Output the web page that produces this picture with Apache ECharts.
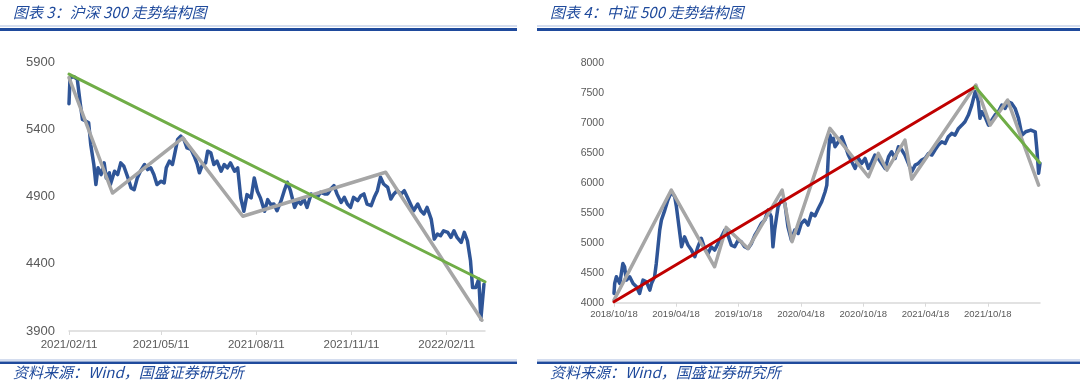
<!DOCTYPE html>
<html>
<head>
<meta charset="utf-8">
<script src="https://cdn.jsdelivr.net/npm/echarts@6/dist/echarts.min.js"></script>
<style>
  html, body { margin: 0; padding: 0; background: #fff; }
  #chart { width: 1080px; height: 384px; }
</style>
</head>
<body>
<div id="chart"></div>
<script>
// ---------- Chart 3: CSI 300 (days counted from the first tick date) ----------
const hs300Title = '图表 3：沪深 300 走势结构图';
const hs300XTicks = ['2021/02/11', '2021/05/11', '2021/08/11', '2021/11/11', '2022/02/11'];
const hs300YTicks = [3900, 4400, 4900, 5400, 5900];
const hs300Days = [0,1,5,8,11,13,16,19,21,24,26,28,31,34,36,39,40,44,47,50,53,57,60,63,66,69,73,76,79,82,85,89,92,94,97,100,102,105,108,111,114,118,121,124,126,129,132,134,137,140,143,147,150,153,156,160,163,166,169,172,176,179,182,185,189,192,195,198,201,205,208,211,214,218,221,224,227,230,234,237,240,243,247,250,253,256,259,263,266,269,272,275,279,282,285,288,292,295,298,301,304,308,311,314,317,321,324,327,330,333,337,340,343,346,350,353,356,359,362,366,369,372,375,379,382,385,388,390,393,396,398,401];
const hs300Close = [5590,5784,5790,5771,5585,5473,5461,5448,5287,5138,4989,5113,5063,5150,5038,5076,4989,5088,5063,5150,5125,5038,4964,4951,5038,5088,5138,5100,5113,5063,4989,5014,5001,5113,5163,5138,5212,5324,5349,5324,5262,5250,5200,5138,5076,5138,5150,5237,5225,5138,5163,5088,5138,5113,5150,5088,5113,4889,4790,4914,4889,5038,4939,4889,4790,4877,4840,4844,4794,4869,4943,5006,4943,4819,4869,4844,4881,4819,4919,4906,4894,4931,4919,4919,4956,4981,4919,4856,4894,4844,4819,4894,4869,4906,4919,4844,4832,4894,4943,5043,4993,4968,4881,4919,4943,4919,4943,4894,4844,4794,4844,4794,4770,4819,4732,4583,4620,4608,4645,4633,4596,4645,4596,4558,4633,4571,4422,4223,4223,4286,3988,4248];
const hs300ZigDays = [0, 42, 110, 168, 306, 399];
const hs300ZigValues = [5783, 4926, 5336, 4753, 5080, 3980];
const hs300TrendDays = [0, 402];
const hs300TrendValues = [5810, 4266];
const hs300MaxDay = 402;

// ---------- Chart 4: CSI 500 ----------
const zz500Title = '图表 4：中证 500 走势结构图';
const zz500XTicks = ['2018/10/18', '2019/04/18', '2019/10/18', '2020/04/18', '2020/10/18', '2021/04/18', '2021/10/18'];
const zz500YTicks = [4000, 4500, 5000, 5500, 6000, 6500, 7000, 7500, 8000];
const zz500Days = [0,2,7,17,26,31,36,46,56,66,75,85,95,105,110,119,124,129,134,139,149,158,168,178,183,188,193,198,207,217,227,237,246,256,266,276,285,295,305,315,325,334,344,354,364,373,383,393,403,413,422,432,442,452,461,466,471,481,491,501,510,520,530,540,549,559,569,579,589,599,609,619,624,629,633,638,643,648,658,668,677,687,697,707,717,726,736,746,756,765,775,785,795,805,814,824,834,844,853,863,873,883,892,902,912,922,932,941,951,961,971,980,990,1000,1010,1020,1029,1039,1049,1059,1064,1068,1073,1078,1088,1098,1108,1117,1127,1137,1147,1156,1166,1176,1186,1196,1207,1222,1235,1240,1245,1249];
const zz500Close = [4154,4321,4433,4321,4656,4600,4377,4433,4321,4266,4154,4377,4349,4210,4321,4433,4656,4934,5213,5380,5547,5715,5854,5770,5603,5380,5157,4934,5101,4962,4879,4767,4934,5074,4906,4823,4934,4879,4990,5101,5213,5129,4962,4934,5046,5018,4934,4906,4990,5129,5213,5324,5380,5547,5436,4934,5213,5603,5715,5659,5269,5046,5213,5157,5324,5380,5297,5492,5450,5575,5686,5853,5965,6522,6801,6689,6745,6606,6689,6773,6634,6467,6355,6244,6411,6327,6411,6244,6355,6467,6411,6327,6244,6439,6522,6411,6606,6550,6467,6327,6188,6299,6327,6383,6411,6494,6467,6550,6634,6689,6662,6773,6829,6801,6912,6968,7024,7135,7302,7525,7470,7358,7080,7191,7107,6968,7052,7135,7191,7302,7247,7358,7330,7247,7080,6800,6856,6884,6856,6550,6161,6328];
const zz500ZigDays = [0, 168, 295, 329, 393, 493, 522, 633, 746, 775, 800, 853, 873, 1061, 1103, 1154, 1245];
const zz500ZigValues = [4043, 5882, 4600, 5258, 4906, 5882, 5018, 6912, 6104, 6494, 6216, 6717, 6065, 7637, 6968, 7386, 5965];
const zz500UpDays = [0, 1059];
const zz500UpValues = [4015, 7609];
const zz500DownDays = [1059, 1248];
const zz500DownValues = [7609, 6338];
const zz500MaxDay = 1249;

const sourceText = '资料来源：Wind，国盛证券研究所';

// ---------- helpers ----------
function parseDay(label) {
  const p = label.split('/').map(Number);
  return Date.UTC(p[0], p[1] - 1, p[2]);
}
function tickOffsets(labels) {
  const base = parseDay(labels[0]);
  return labels.map(l => Math.round((parseDay(l) - base) / 86400000));
}
function labelFormatter(labels) {
  const offs = tickOffsets(labels);
  return v => {
    const i = offs.indexOf(Math.round(v));
    return i >= 0 ? labels[i] : '';
  };
}
function pairs(xs, ys) { return xs.map((x, i) => [x, ys[i]]); }

const AXIS_GREY = '#D9D9D9';
const TEXT_GREY = '#595959';
const NAVY = '#1F4A9C';
const FONT = '"Liberation Sans", Arial, sans-serif';
const CJK = '"Noto Sans CJK SC", sans-serif';

function xAxisCfg(idx, labels, max, fontSize, margin) {
  const offs = tickOffsets(labels);
  return {
    type: 'value', gridIndex: idx, min: 0, max: max,
    axisLine: { show: true, lineStyle: { color: AXIS_GREY, width: 1.5 } },
    axisTick: { show: true, customValues: offs, length: 4, lineStyle: { color: AXIS_GREY, width: 1 } },
    axisLabel: { customValues: offs, formatter: labelFormatter(labels), color: TEXT_GREY,
                 fontSize: fontSize, fontFamily: FONT, margin: margin },
    splitLine: { show: false }
  };
}
function yAxisCfg(idx, ticks, fontSize, margin) {
  return {
    type: 'value', gridIndex: idx, min: ticks[0], max: ticks[ticks.length - 1],
    axisLine: { show: false }, axisTick: { show: false }, splitLine: { show: false },
    axisLabel: { customValues: ticks, formatter: v => String(v), color: TEXT_GREY,
                 fontSize: fontSize, fontFamily: FONT, margin: margin }
  };
}
function lineSeries(idx, data, color, width, z) {
  return {
    type: 'line', xAxisIndex: idx, yAxisIndex: idx, data: data,
    showSymbol: false, symbol: 'none', z: z, silent: true,
    lineStyle: { color: color, width: width, join: 'round', cap: 'round' }
  };
}
function headerGraphics(x0, x1, titleX, title) {
  return [
    { type: 'rect', shape: { x: x0, y: 25.5, width: x1 - x0, height: 1 }, style: { fill: '#A9BCE0' } },
    { type: 'rect', shape: { x: x0, y: 28, width: x1 - x0, height: 3 }, style: { fill: NAVY } },
    { type: 'rect', shape: { x: x0, y: 359.5, width: x1 - x0, height: 1 }, style: { fill: '#A9BCE0' } },
    { type: 'rect', shape: { x: x0, y: 361.5, width: x1 - x0, height: 2.5 }, style: { fill: NAVY } },
    { type: 'text', x: titleX, y: 12, style: { text: title, fill: NAVY, font: 'italic 15px ' + CJK, textVerticalAlign: 'middle' } },
    { type: 'text', x: titleX, y: 372, style: { text: sourceText, fill: NAVY, font: 'italic 15px ' + CJK, textVerticalAlign: 'middle' } }
  ];
}

const chart = echarts.init(document.getElementById('chart'), null, { renderer: 'canvas' });
chart.setOption({
  animation: false,
  backgroundColor: '#ffffff',
  grid: [
    { left: 69, top: 62, width: 416, height: 269 },
    { left: 614, top: 63.3, width: 426, height: 239.4 }
  ],
  xAxis: [
    xAxisCfg(0, hs300XTicks, hs300MaxDay, 11.5, 8),
    xAxisCfg(1, zz500XTicks, zz500MaxDay, 9.5, 7)
  ],
  yAxis: [
    yAxisCfg(0, hs300YTicks, 13, 14),
    yAxisCfg(1, zz500YTicks, 10.5, 10)
  ],
  series: [
    lineSeries(0, pairs(hs300Days, hs300Close), '#2F5597', 3.5, 2),
    lineSeries(0, pairs(hs300ZigDays, hs300ZigValues), '#A6A6A6', 3.5, 3),
    lineSeries(0, pairs(hs300TrendDays, hs300TrendValues), '#70AD47', 3, 4),
    lineSeries(1, pairs(zz500Days, zz500Close), '#2F5597', 3.5, 2),
    lineSeries(1, pairs(zz500ZigDays, zz500ZigValues), '#A6A6A6', 3.5, 3),
    lineSeries(1, pairs(zz500UpDays, zz500UpValues), '#C00000', 3, 4),
    lineSeries(1, pairs(zz500DownDays, zz500DownValues), '#70AD47', 3, 4)
  ],
  graphic: [].concat(
    headerGraphics(0, 517, 13, hs300Title),
    headerGraphics(537, 1080, 550, zz500Title)
  )
});
</script>
</body>
</html>
